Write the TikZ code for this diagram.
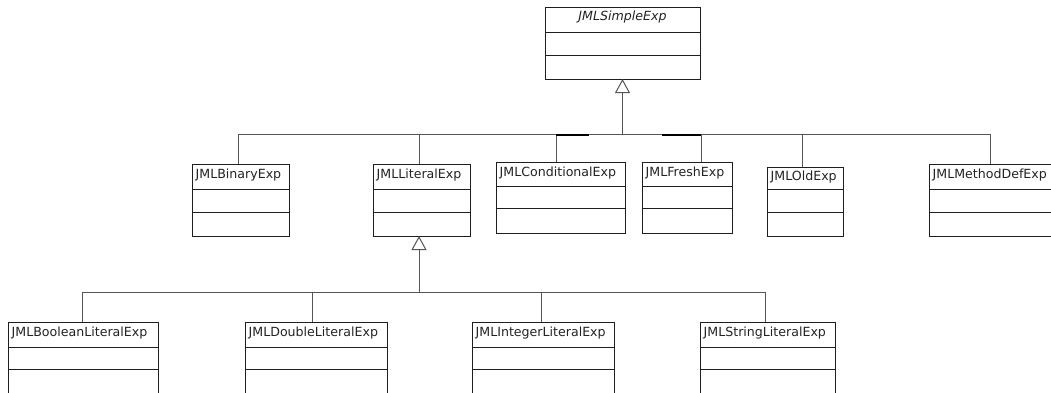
\documentclass[tikz,border=0pt]{standalone}
\usepackage{fontspec}
\setmainfont{DejaVu Sans}
\usetikzlibrary{arrows.meta}
\definecolor{boxc}{RGB}{30,30,30}
\definecolor{connc}{RGB}{85,85,85}
\definecolor{txtc}{RGB}{35,35,35}
\tikzset{
  clsbox/.style={draw=boxc, line width=1pt, fill=white, inner sep=0pt, outer sep=0pt},
  clsline/.style={draw=boxc, line width=1pt},
  clstext/.style={anchor=base west, inner sep=0pt, text=txtc, font=\fontsize{12.6pt}{15pt}\selectfont},
  conn/.style={draw=connc, line width=1pt},
  overlap/.style={draw=black, line width=1.6pt},
  gen/.style={conn, -{Triangle[open, width=15pt, length=14pt, line width=1pt]}}
}
% name, left, top, right, bottom, divider1, divider2, text, baseline offset
\newcommand\umlcls[9]{%
  \node[clsbox, anchor=north west, minimum width={(#4-#2)*1pt}, minimum height={(#5-#3)*1pt}] (#1) at (#2,#3) {};
  \draw[clsline] (#2,#6) -- (#4,#6);
  \draw[clsline] (#2,#7) -- (#4,#7);
  \node[clstext] (#1-t) at (#2+3.5,#3+#9) {#8};
}
\begin{document}
\begin{tikzpicture}[x=1pt, y=-1pt]
\useasboundingbox (0,0) rectangle (1051,392);
\clip (0,0) rectangle (1051,392);

% root class
\node[clsbox, anchor=north west, minimum width=155pt, minimum height=72pt] (simple) at (545,7) {};
\draw[clsline] (545,32) -- (700,32);
\draw[clsline] (545,55) -- (700,55);
\node[clstext, anchor=base, font=\fontsize{12.6pt}{15pt}\selectfont\itshape] (simple-t) at (622.5,20) {JMLSimpleExp};

% second row
\umlcls{bin}{192}{164}{289}{236}{189}{212}{JMLBinaryExp}{14}
\umlcls{lit}{373}{164}{470}{236}{189}{212}{JMLLiteralExp}{14}
\umlcls{cond}{496}{162}{625}{233}{186}{208}{JMLConditionalExp}{14.5}
\umlcls{fresh}{642}{162}{732}{233}{186}{208}{JMLFreshExp}{14.5}
\umlcls{old}{767}{167}{843}{236}{189}{212}{JMLOldExp}{13}
\umlcls{mdef}{929}{164}{1070}{236}{189}{212}{JMLMethodDefExp}{14}

% third row
\umlcls{bool}{8}{322}{158}{420}{347}{369}{JMLBooleanLiteralExp}{14}
\umlcls{dbl}{245}{322}{387}{420}{347}{369}{JMLDoubleLiteralExp}{14}
\umlcls{int}{472}{322}{614}{420}{347}{369}{JMLIntegerLiteralExp}{14}
\umlcls{str}{700}{322}{835}{420}{347}{369}{JMLStringLiteralExp}{14}

% bus coordinates (upper hierarchy)
\coordinate (t-root) at (622.5,134);
\coordinate (t-bin) at (238,134);
\coordinate (t-lit) at (419,134);
\coordinate (t-cond) at (556,134);
\coordinate (t-fresh) at (701,134);
\coordinate (t-old) at (802,134);
\coordinate (t-mdef) at (990,134);

\draw[conn] (t-bin) -- (t-mdef);
\draw[gen] (t-root) -- (simple.south);
\foreach \c in {bin,lit,cond,fresh,old,mdef}{
  \draw[conn] (t-\c) -- (t-\c |- \c.north);
}
\draw[overlap] (556,135.2) -- (589,135.2);
\draw[overlap] (662,135.2) -- (701,135.2);

% bus coordinates (literal hierarchy)
\coordinate (l-root) at (419,292);
\coordinate (l-bool) at (82,292);
\coordinate (l-dbl) at (312,292);
\coordinate (l-int) at (541,292);
\coordinate (l-str) at (765,292);

\draw[conn] (l-bool) -- (l-str);
\draw[gen] (l-root) -- (l-root |- lit.south);
\foreach \c in {bool,dbl,int,str}{
  \draw[conn] (l-\c) -- (l-\c |- \c.north);
}
\end{tikzpicture}
\end{document}
